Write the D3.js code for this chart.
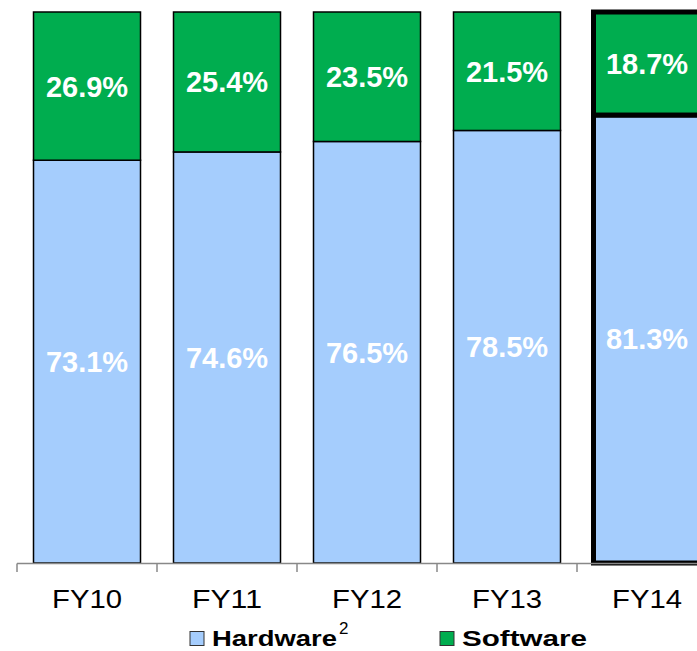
<!DOCTYPE html>
<html lang="en">
<head>
    <meta charset="UTF-8">
    <title>Hardware vs Software Mix</title>
    <script src="https://cdnjs.cloudflare.com/ajax/libs/d3/7.8.5/d3.min.js"></script>
    <style>
        body {
            margin: 0;
            background-color: white;
            font-family: Arial, "Liberation Sans", sans-serif;
        }
    </style>
</head>
<body>
    <div id="chart"></div>

    <script>
        const categories = ["FY10", "FY11", "FY12", "FY13", "FY14"];
        const hardware = [73.1, 74.6, 76.5, 78.5, 81.3];
        const software = [26.9, 25.4, 23.5, 21.5, 18.7];
        const highlighted = "FY14";

        const width = 697;
        const height = 651;

        const svg = d3.select("#chart")
            .append("svg")
            .attr("width", width)
            .attr("height", height);

        const padInner = 33 / 140;
        const x = d3.scaleBand()
            .domain(categories)
            .range([17, 717])
            .paddingInner(padInner)
            .paddingOuter(padInner / 2);

        const y = d3.scaleLinear()
            .domain([0, 100])
            .range([563, 12]);

        const colors = { hardware: "#a5cdfd", software: "#00ad4f" };

        const rows = categories.map((c, i) => ({
            cat: c,
            segs: [
                { key: "hardware", y0: 0, y1: hardware[i], v: hardware[i] },
                { key: "software", y0: hardware[i], y1: hardware[i] + software[i], v: software[i] }
            ]
        }));

        // bars
        const groups = svg.selectAll(".bar")
            .data(rows)
            .enter()
            .append("g")
            .attr("class", "bar");

        groups.selectAll("rect")
            .data(d => d.segs.map(s => ({ ...s, cat: d.cat })))
            .enter()
            .append("rect")
            .attr("x", d => x(d.cat))
            .attr("y", d => y(d.y1))
            .attr("width", x.bandwidth())
            .attr("height", d => y(d.y0) - y(d.y1))
            .style("fill", d => colors[d.key])
            .style("stroke", "#000")
            .style("stroke-width", d => d.cat === highlighted ? 5 : 1.5);

        groups.selectAll("text")
            .data(d => d.segs.map(s => ({ ...s, cat: d.cat })))
            .enter()
            .append("text")
            .attr("x", d => x(d.cat) + x.bandwidth() / 2)
            .attr("y", d => (y(d.y0) + y(d.y1)) / 2)
            .attr("dy", "0.36em")
            .attr("text-anchor", "middle")
            .style("fill", "white")
            .style("font-weight", "bold")
            .style("font-size", "29px")
            .text(d => d.v.toFixed(1) + "%");

        // axis
        const axisY = 563.5;
        const step = x.step();
        svg.append("line")
            .attr("x1", 17).attr("x2", width)
            .attr("y1", axisY).attr("y2", axisY)
            .style("stroke", "#888").style("stroke-width", 1.5);

        svg.selectAll(".tick")
            .data(categories)
            .enter()
            .append("line")
            .attr("x1", d => x(d) - step * padInner / 2)
            .attr("x2", d => x(d) - step * padInner / 2)
            .attr("y1", axisY)
            .attr("y2", 572)
            .style("stroke", "#888").style("stroke-width", 1.5);

        // reference labels are a little wider than plain Arial at this height
        svg.selectAll(".catLabel")
            .data(categories)
            .enter()
            .append("text")
            .attr("x", d => x(d) + x.bandwidth() / 2)
            .attr("y", 608)
            .attr("text-anchor", "middle")
            .attr("textLength", 70)
            .attr("lengthAdjust", "spacingAndGlyphs")
            .style("font-size", "26px")
            .style("fill", "#000")
            .text(d => d);

        // legend
        const legendItems = [
            { key: "hardware", label: "Hardware", sup: "2", x: 190, len: 125 },
            { key: "software", label: "Software", sup: null, x: 440, len: 125 }
        ];

        const legend = svg.selectAll(".legend")
            .data(legendItems)
            .enter()
            .append("g")
            .attr("class", "legend");

        legend.append("rect")
            .attr("x", d => d.x)
            .attr("y", 631.5)
            .attr("width", 14)
            .attr("height", 14)
            .style("fill", d => colors[d.key])
            .style("stroke", "#333")
            .style("stroke-width", 1);

        legend.append("text")
            .attr("x", d => d.x + 22)
            .attr("y", 646)
            .attr("textLength", d => d.len)
            .attr("lengthAdjust", "spacingAndGlyphs")
            .style("font-size", "22px")
            .style("font-weight", "bold")
            .style("fill", "#000")
            .text(d => d.label);

        legend.filter(d => d.sup)
            .append("text")
            .attr("x", d => d.x + 22 + d.len + 2)
            .attr("y", 634)
            .style("font-size", "17px")
            .style("fill", "#000")
            .text(d => d.sup);
    </script>
</body>
</html>
